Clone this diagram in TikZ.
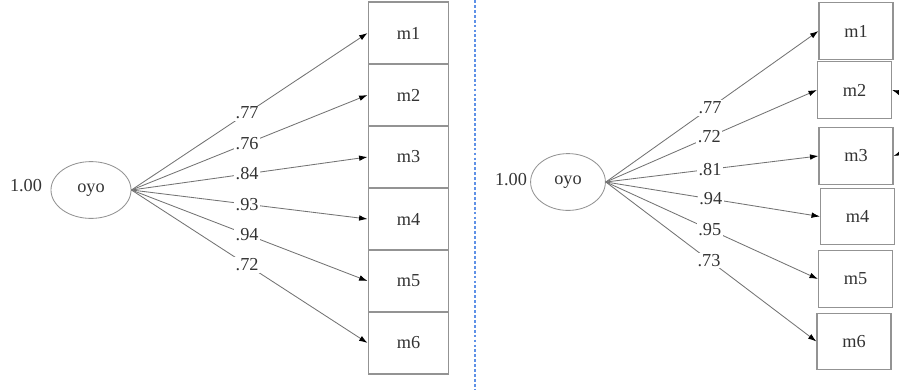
\documentclass[tikz,border=0pt]{standalone}
\usepackage{fontspec}
\setmainfont{Liberation Serif}
\usetikzlibrary{shapes.geometric,arrows.meta}
\definecolor{sepblue}{RGB}{95,145,230}

\begin{document}
\begin{tikzpicture}[x=0.025cm, y=-0.025cm,
    font=\fontsize{13}{15}\selectfont, text=black!80,
    lat/.style={ellipse, draw=gray!85, semithick, minimum width=2cm, minimum height=1.42cm, inner sep=0pt},
    obs/.style={rectangle, draw=gray!85, thick, minimum width=2.02cm, minimum height=1.55cm, inner sep=0pt},
    obsr/.style={obs, minimum width=1.85cm, minimum height=1.42cm},
    load/.style={-{Latex[color=black,length=6pt,width=4pt]}, gray!90!black, semithick},
    coef/.style={fill=white, text=black!80, inner sep=1pt, pos=0.49}]
  \clip (0,0) rectangle (899,390);

  % Left model
  \node[lat] (oyoL) at (91,190) {oyo};
  \node (varL) at (26,186) {1.00};
  \node[obs] (m1L) at (408.5,33) {m1};
  \node[obs] (m2L) at (408.5,95) {m2};
  \node[obs] (m3L) at (408.5,157) {m3};
  \node[obs] (m4L) at (408.5,219) {m4};
  \node[obs] (m5L) at (408.5,281) {m5};
  \node[obs] (m6L) at (408.5,343) {m6};

  \draw[load] (oyoL.east) -- node[coef] {.77} (m1L.west);
  \draw[load] (oyoL.east) -- node[coef] {.76} (m2L.west);
  \draw[load] (oyoL.east) -- node[coef] {.84} (m3L.west);
  \draw[load] (oyoL.east) -- node[coef] {.93} (m4L.west);
  \draw[load] (oyoL.east) -- node[coef] {.94} (m5L.west);
  \draw[load] (oyoL.east) -- node[coef] {.72} (m6L.west);

  % Separator
  \draw[sepblue, dashed, dash pattern=on 2pt off 1.5pt, thick] (475,0) -- (475,390);

  % Right model
  \node[lat, minimum width=1.87cm] (oyoR) at (568,182) {oyo};
  \node (varR) at (511,180) {1.00};
  \node[obsr] (m1R) at (856,31) {m1};
  \node[obsr] (m2R) at (854.5,90) {m2};
  \node[obsr] (m3R) at (856,156) {m3};
  \node[obsr] (m4R) at (857.5,216.5) {m4};
  \node[obsr] (m5R) at (855.5,279) {m5};
  \node[obsr] (m6R) at (854,341.5) {m6};

  \draw[load] (oyoR.east) -- node[coef] {.77} (m1R.west);
  \draw[load] (oyoR.east) -- node[coef] {.72} (m2R.west);
  \draw[load] (oyoR.east) -- node[coef] {.81} (m3R.west);
  \draw[load] (oyoR.east) -- node[coef] {.94} (m4R.west);
  \draw[load] (oyoR.east) -- node[coef] {.95} (m5R.west);
  \draw[load] (oyoR.east) -- node[coef] {.73} (m6R.west);

  % Error covariance
  \draw[load, {Latex[color=black,length=6pt,width=4pt]}-{Latex[color=black,length=6pt,width=4pt]}]
    (m2R.east) to[bend left=70] (m3R.east);
\end{tikzpicture}
\end{document}
